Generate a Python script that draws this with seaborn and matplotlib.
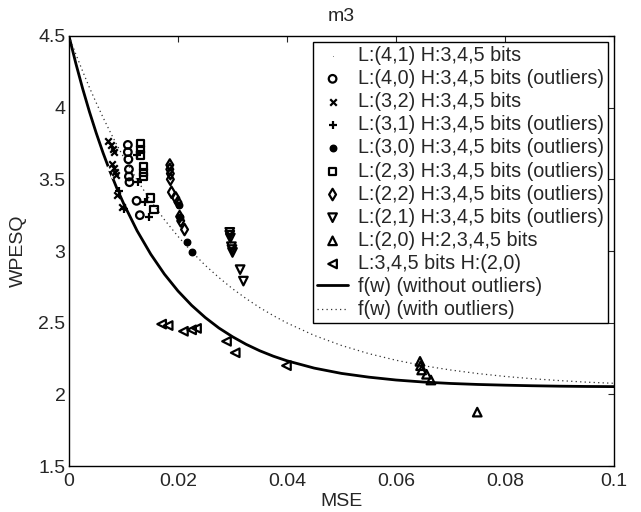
import matplotlib
matplotlib.use("Agg")
import matplotlib.pyplot as plt
import seaborn as sns
import pandas as pd

sns.set_style("white")
plt.rcParams['font.family'] = ['Liberation Sans', 'DejaVu Sans']
plt.rcParams['font.size'] = 14

# ---- data ----
title = "m3"
xlabel = "MSE"
ylabel = "WPESQ"
xticks = [0, 0.02, 0.04, 0.06, 0.08, 0.1]
xtick_labels = ["0", "0.02", "0.04", "0.06", "0.08", "0.1"]
yticks = [1.5, 2, 2.5, 3, 3.5, 4, 4.5]
ytick_labels = ["1.5", "2", "2.5", "3", "3.5", "4", "4.5"]

l41_x = [0.0068, 0.0073, 0.0080, 0.0086, 0.0095]
l41_y = [3.76, 3.58, 3.52, 3.40, 3.31]

l40_x = [0.0108, 0.0108, 0.0109, 0.0110, 0.0110, 0.0111, 0.0124, 0.0130]
l40_y = [3.74, 3.69, 3.64, 3.57, 3.52, 3.48, 3.35, 3.25]

l32_x = [0.0072, 0.0077, 0.0080, 0.0083, 0.0079, 0.0082, 0.0085, 0.0086, 0.0088, 0.0098]
l32_y = [3.77, 3.74, 3.71, 3.69, 3.61, 3.58, 3.55, 3.53, 3.39, 3.31]

l31_x = [0.0124, 0.0127, 0.0139, 0.0147, 0.0092, 0.0101]
l31_y = [3.67, 3.48, 3.34, 3.24, 3.42, 3.29]

l30_x = [0.0202, 0.0204, 0.0217, 0.0226]
l30_y = [3.32, 3.24, 3.06, 2.99]

l23_x = [0.0131, 0.0132, 0.0132, 0.0136, 0.0136, 0.0137, 0.0149, 0.0156]
l23_y = [3.75, 3.71, 3.67, 3.59, 3.55, 3.52, 3.37, 3.29]

l22_x = [0.0185, 0.0185, 0.0186, 0.0186, 0.0188, 0.0196, 0.0200, 0.0203, 0.0205, 0.0212]
l22_y = [3.60, 3.57, 3.54, 3.50, 3.41, 3.37, 3.34, 3.24, 3.21, 3.15]

l21_x = [0.0295, 0.0295, 0.0296, 0.0298, 0.0299, 0.0300, 0.0314, 0.0320]
l21_y = [3.13, 3.11, 3.09, 3.03, 3.01, 2.99, 2.87, 2.79]

l20_x = [0.0644, 0.0645, 0.0647, 0.0656, 0.0664, 0.0749]
l20_y = [2.23, 2.20, 2.17, 2.14, 2.10, 1.876]

h20_x = [0.0170, 0.0182, 0.0210, 0.0225, 0.0234, 0.0289, 0.0305, 0.0399]
h20_y = [2.49, 2.48, 2.44, 2.45, 2.46, 2.37, 2.29, 2.20]

# fitted curves f(w)
curve_x = [0, 0.00125, 0.0025, 0.00375, 0.005, 0.00625, 0.0075, 0.00875, 0.01,
           0.0125, 0.015, 0.0175, 0.02, 0.0225, 0.025, 0.0275, 0.03, 0.0325,
           0.035, 0.0375, 0.04, 0.045, 0.05, 0.055, 0.06, 0.065, 0.07, 0.075,
           0.08, 0.085, 0.09, 0.095, 0.1]
fw_without = [4.5, 4.310, 4.134, 3.972, 3.823, 3.685, 3.558, 3.441, 3.333,
              3.141, 2.978, 2.839, 2.721, 2.621, 2.536, 2.463, 2.402, 2.349,
              2.304, 2.266, 2.234, 2.183, 2.146, 2.120, 2.100, 2.086, 2.076, 2.069,
              2.064, 2.060, 2.057, 2.055, 2.054]
fw_with = [4.5, 4.374, 4.255, 4.141, 4.034, 3.932, 3.835, 3.743, 3.656,
           3.495, 3.350, 3.219, 3.102, 2.996, 2.900, 2.815, 2.737, 2.668,
           2.605, 2.549, 2.498, 2.411, 2.341, 2.284, 2.238, 2.200, 2.170, 2.145,
           2.125, 2.109, 2.096, 2.085, 2.077]

series = [
    ("L:(4,1) H:3,4,5 bits", l41_x, l41_y, '.', True, 20),
    ("L:(4,0) H:3,4,5 bits (outliers)", l40_x, l40_y, 'o', False, 30),
    ("L:(3,2) H:3,4,5 bits", l32_x, l32_y, 'x', True, 22),
    ("L:(3,1) H:3,4,5 bits (outliers)", l31_x, l31_y, '+', True, 30),
    ("L:(3,0) H:3,4,5 bits (outliers)", l30_x, l30_y, 'o', True, 22),
    ("L:(2,3) H:3,4,5 bits (outliers)", l23_x, l23_y, 's', False, 26),
    ("L:(2,2) H:3,4,5 bits (outliers)", l22_x, l22_y, 'd', False, 34),
    ("L:(2,1) H:3,4,5 bits (outliers)", l21_x, l21_y, 'v', False, 38),
    ("L:(2,0) H:2,3,4,5 bits", l20_x, l20_y, '^', False, 38),
    ("L:3,4,5 bits H:(2,0)", h20_x, h20_y, '<', False, 38),
]

fig = plt.figure(figsize=(6.41, 5.12), dpi=100)
ax = fig.add_axes([0.1076, 0.0898, 0.8504, 0.8399])

for label, xs, ys, mk, filled, s in series:
    df = pd.DataFrame({"x": xs, "y": ys})
    if mk in ('x', '+', '.'):
        sns.scatterplot(data=df, x="x", y="y", marker=mk, s=s, color='black',
                        linewidth=1.6, ax=ax, label=label, zorder=3)
    elif filled:
        sns.scatterplot(data=df, x="x", y="y", marker=mk, s=s, facecolor='black',
                        edgecolor='black', linewidth=1.0, ax=ax, label=label, zorder=3)
    else:
        sns.scatterplot(data=df, x="x", y="y", marker=mk, s=s, facecolor='none',
                        edgecolor='black', linewidth=1.6, ax=ax, label=label, zorder=3)

cdf = pd.DataFrame({"x": curve_x, "a": fw_without, "b": fw_with})
sns.lineplot(data=cdf, x="x", y="a", color='black', linewidth=2.0, ax=ax,
             label="f(w) (without outliers)", sort=False, estimator=None)
sns.lineplot(data=cdf, x="x", y="b", color='#333333', linewidth=0.9, ax=ax,
             linestyle=(0, (1, 2.6)), label="f(w) (with outliers)", sort=False, estimator=None)

ax.set_xlim(0, 0.1)
ax.set_ylim(1.5, 4.5)
ax.set_xticks(xticks)
ax.set_xticklabels(xtick_labels)
ax.set_yticks(yticks)
ax.set_yticklabels(ytick_labels)
ax.tick_params(direction='in', top=True, right=True, length=4, width=0.8,
               labelsize=14)
ax.tick_params(axis='x', pad=5)
ax.tick_params(axis='y', pad=2.5)
for sp in ax.spines.values():
    sp.set_color('black')
    sp.set_linewidth(1.0)
ax.set_title(title, fontsize=14, pad=11)
ax.set_xlabel(xlabel, fontsize=14, labelpad=2)
ax.set_ylabel(ylabel, fontsize=14, labelpad=8)

leg = ax.legend(loc='upper right', fontsize=14.2, frameon=True, fancybox=False,
                edgecolor='black', framealpha=1, labelspacing=0.21, handlelength=1.6,
                handletextpad=0.5, borderpad=0.2, borderaxespad=0.3, scatterpoints=1)
leg.get_frame().set_linewidth(1.0)

fig.savefig("out.png", dpi=100)
